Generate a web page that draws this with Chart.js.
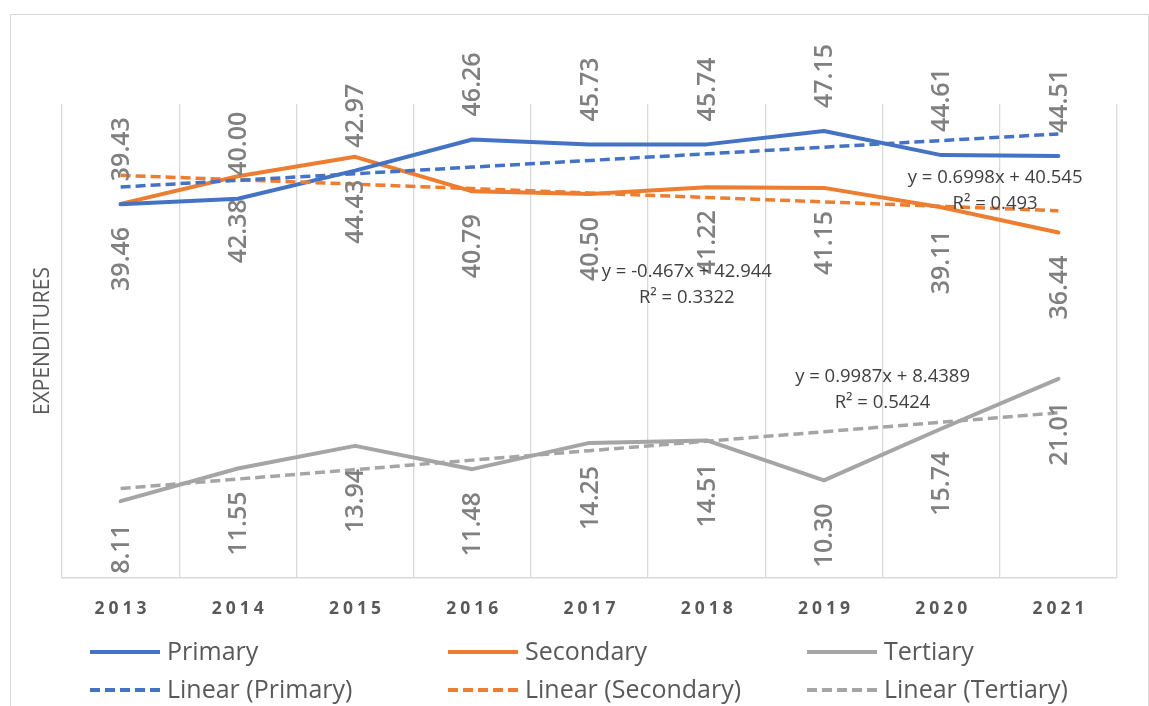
<!DOCTYPE html>
<html>
<head>
<meta charset="utf-8">
<script src="https://cdn.jsdelivr.net/npm/chart.js@4.4.1/dist/chart.umd.min.js"></script>
<style>
html,body{margin:0;padding:0;background:#fff;width:1149px;height:706px;overflow:hidden;}
#frame{position:absolute;left:10px;top:14px;width:1137px;height:720px;border:1px solid #d9d9d9;}
#c{position:absolute;left:0;top:0;}
</style>
</head>
<body>
<div id="frame"></div>
<canvas id="c" width="1149" height="706"></canvas>
<script>
// ---- data ----
const years = ['2013','2014','2015','2016','2017','2018','2019','2020','2021'];
const primary   = [39.43, 40.00, 42.97, 46.26, 45.73, 45.74, 47.15, 44.61, 44.51];
const secondary = [39.46, 42.38, 44.43, 40.79, 40.50, 41.22, 41.15, 39.11, 36.44];
const tertiary  = [8.11, 11.55, 13.94, 11.48, 14.25, 14.51, 10.30, 15.74, 21.01];
const seriesNames = ['Primary', 'Secondary', 'Tertiary'];
const trendSlopes = [0.6998, -0.467, 0.9987];
const trendIntercepts = [40.545, 42.944, 8.4389];
const trendR2 = ['0.493', '0.3322', '0.5424'];
const yAxisTitle = 'EXPENDITURES';
const yMin = 0, yMax = 50;

const seriesValues = [primary, secondary, tertiary];
const colors = ['#4472C4', '#ED7D31', '#A5A5A5'];
const LETTER_SPACING = 4;

// category scale whose tick labels are letter-spaced
class SpacedCategoryScale extends Chart.CategoryScale {
  drawLabels(chartArea) {
    const ctx = this.ctx;
    ctx.save();
    ctx.letterSpacing = LETTER_SPACING + 'px';
    ctx.translate(LETTER_SPACING / 2, 0);
    super.drawLabels(chartArea);
    ctx.restore();
  }
}
SpacedCategoryScale.id = 'spacedCategory';
SpacedCategoryScale.defaults = Chart.CategoryScale.defaults;
Chart.register(SpacedCategoryScale);

const datasets = [];
seriesNames.forEach((n, k) => {
  datasets.push({
    label: n, data: seriesValues[k], borderColor: colors[k], backgroundColor: colors[k],
    borderWidth: 4, pointRadius: 0, pointHoverRadius: 0, tension: 0, fill: false,
    borderCapStyle: 'round', borderJoinStyle: 'round', order: 2
  });
});
seriesNames.forEach((n, k) => {
  datasets.push({
    label: 'Linear (' + n + ')',
    data: years.map((_, i) => +(trendSlopes[k] * (i + 1) + trendIntercepts[k]).toFixed(4)),
    borderColor: colors[k], backgroundColor: colors[k],
    borderWidth: 3.5, borderDash: [10, 5], pointRadius: 0, pointHoverRadius: 0, tension: 0, fill: false,
    order: 1
  });
});

const valueLabels = {
  id: 'valueLabels',
  afterDatasetsDraw(chart) {
    const ctx = chart.ctx;
    ctx.save();
    ctx.font = '600 25px "Open Sans"';
    ctx.fillStyle = '#808080';
    ctx.textBaseline = 'middle';
    [0, 1, 2].forEach(k => {
      const meta = chart.getDatasetMeta(k);
      const above = k === 0;
      meta.data.forEach((pt, i) => {
        const v = chart.data.datasets[k].data[i];
        ctx.save();
        ctx.translate(pt.x + 1, above ? pt.y - 23 : pt.y + 23);
        ctx.rotate(-Math.PI / 2);
        ctx.textAlign = above ? 'left' : 'right';
        ctx.fillText(v.toFixed(2), 0, 0);
        ctx.restore();
      });
    });
    ctx.restore();
  }
};

const trendEquations = {
  id: 'trendEquations',
  afterDatasetsDraw(chart, args, opts) {
    const ctx = chart.ctx;
    const xs = chart.scales.x, ys = chart.scales.y;
    ctx.save();
    ctx.font = '18.5px "Open Sans"';
    ctx.fillStyle = '#404040';
    ctx.textAlign = 'center';
    ctx.textBaseline = 'middle';
    opts.anchors.forEach((a, k) => {
      const px = xs.getPixelForValue(a.x);
      const py = ys.getPixelForValue(a.y);
      const eq = 'y = ' + trendSlopes[k] + 'x + ' + trendIntercepts[k];
      ctx.fillText(eq, px, py);
      ctx.fillText('R\u00B2 = ' + trendR2[k], px, py + 26);
    });
    ctx.restore();
  }
};

const customLegend = {
  id: 'customLegend',
  afterDraw(chart, args, opts) {
    const ctx = chart.ctx;
    const a = chart.chartArea;
    ctx.save();
    ctx.font = '25px "Open Sans"';
    ctx.fillStyle = '#595959';
    ctx.textBaseline = 'middle';
    ctx.textAlign = 'left';
    chart.data.datasets.forEach((ds, k) => {
      const col = k % 3, row = Math.floor(k / 3);
      const x = a.left + opts.colOffsets[col];
      const y = a.bottom + opts.rowOffsets[row];
      ctx.save();
      ctx.strokeStyle = ds.borderColor;
      ctx.lineWidth = 4;
      ctx.lineCap = 'butt';
      ctx.setLineDash(ds.borderDash || []);
      ctx.beginPath();
      ctx.moveTo(x, y);
      ctx.lineTo(x + opts.sampleWidth, y);
      ctx.stroke();
      ctx.restore();
      ctx.fillText(ds.label, x + opts.sampleWidth + 7, y + 1);
    });
    ctx.restore();
  }
};

new Chart(document.getElementById('c'), {
  type: 'line',
  data: { labels: years, datasets: datasets },
  options: {
    responsive: false,
    animation: false,
    devicePixelRatio: 1,
    layout: { padding: { left: 0, right: 32, top: 104, bottom: 0 } },
    plugins: {
      legend: { display: false },
      tooltip: { enabled: false },
      trendEquations: { anchors: [ { x: 7.46, y: 42.2 }, { x: 4.83, y: 32.3 }, { x: 6.5, y: 21.2 } ] },
      customLegend: { colOffsets: [28, 386, 745], rowOffsets: [74, 112], sampleWidth: 70 }
    },
    scales: {
      x: {
        type: 'spacedCategory',
        offset: true,
        grid: { display: true, offset: true, color: '#d9d9d9', lineWidth: 1.3, drawTicks: false },
        border: { display: true, color: '#d9d9d9', width: 1.5 },
        ticks: { font: { family: 'Open Sans', size: 17.5, weight: 'bold' }, color: '#595959', padding: 21, maxRotation: 0 },
        afterFit: s => { s.height = 128; }
      },
      y: {
        min: yMin, max: yMax,
        grid: { display: false },
        border: { display: false },
        ticks: { display: false },
        title: { display: true, text: yAxisTitle, color: '#595959', font: { family: 'Open Sans', size: 21, weight: 'normal' }, padding: { top: 30, bottom: 0 } },
        afterFit: s => { s.width = 62; }
      }
    }
  },
  plugins: [valueLabels, trendEquations, customLegend]
});
</script>
</body>
</html>
